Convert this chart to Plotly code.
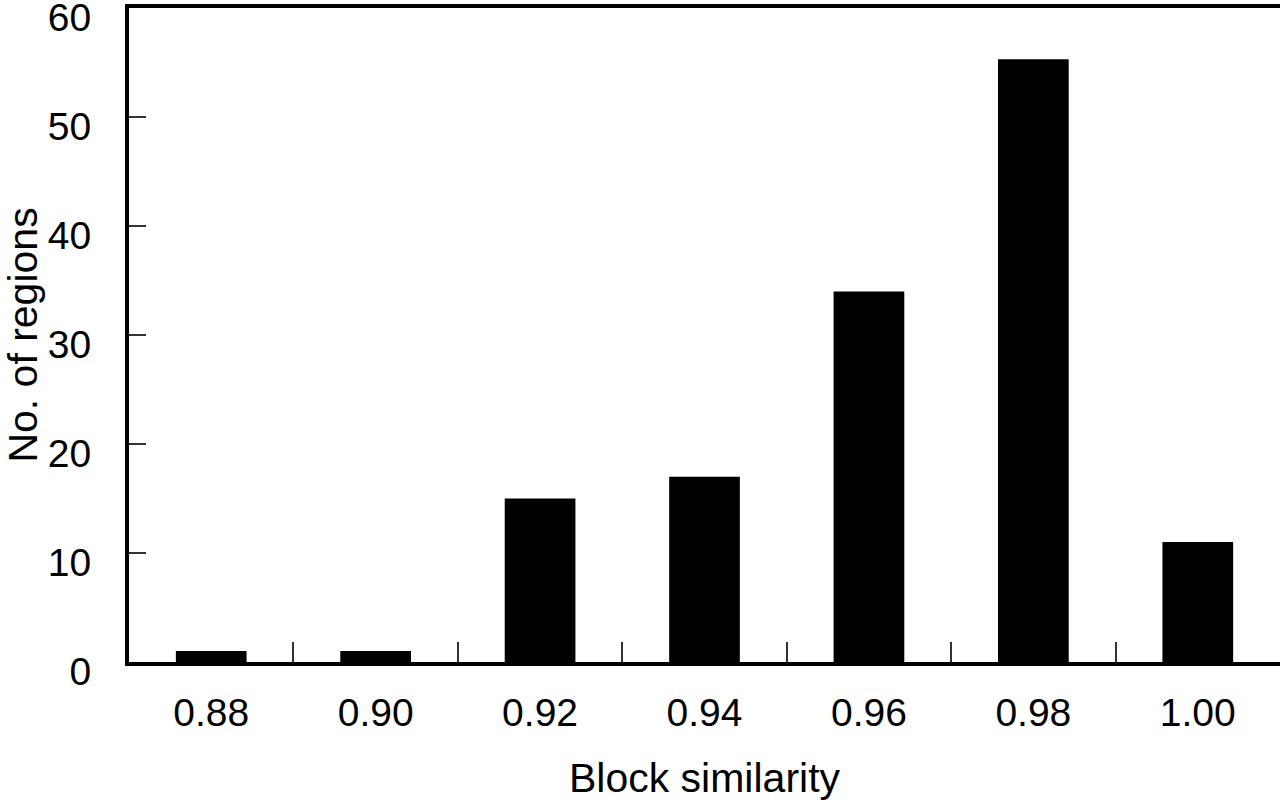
import plotly.graph_objects as go

categories = ["0.88", "0.90", "0.92", "0.94", "0.96", "0.98", "1.00"]
regions = [1, 1, 15, 17, 34, 55.3, 11]
y_ticks = [0, 10, 20, 30, 40, 50, 60]

FONT = "Liberation Sans, Arial, sans-serif"

fig = go.Figure(
    go.Bar(
        x=categories,
        y=regions,
        marker=dict(color="black", line=dict(width=0)),
        width=0.43,
    )
)

fig.update_layout(
    width=1280,
    height=808,
    margin=dict(l=129, r=0, t=8, b=146, autoexpand=False),
    plot_bgcolor="white",
    paper_bgcolor="white",
    showlegend=False,
    font=dict(family=FONT, color="black", size=39),
)

fig.update_xaxes(
    type="category",
    showline=True,
    linewidth=4,
    linecolor="black",
    mirror=True,
    ticks="inside",
    tickson="boundaries",
    ticklen=20,
    tickwidth=1.5,
    tickcolor="#333333",
    showgrid=False,
    tickfont=dict(size=39, family=FONT),
    ticklabelstandoff=13,
    title=dict(text="Block similarity", font=dict(size=41, family=FONT), standoff=32),
)

fig.update_yaxes(
    range=[0, 60],
    tickvals=y_ticks,
    ticktext=[str(v) for v in y_ticks],
    showline=True,
    linewidth=4,
    linecolor="black",
    mirror=True,
    ticks="inside",
    ticklen=17,
    tickwidth=1.5,
    tickcolor="#333333",
    showgrid=False,
    zeroline=False,
    tickfont=dict(size=39, family=FONT),
    ticklabelstandoff=26,
    ticklabelshift=9,
    ticklabeloverflow="allow",
    title=dict(text="No. of regions", font=dict(size=41, family=FONT), standoff=12),
)

fig.write_html("out.html")
